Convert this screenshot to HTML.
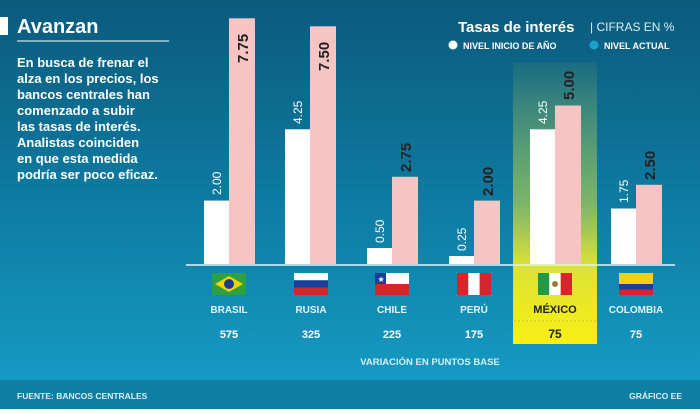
<!DOCTYPE html><html><head><meta charset="utf-8"><style>
body{margin:0;width:700px;height:409px;overflow:hidden;font-family:"Liberation Sans",sans-serif}
</style></head><body>
<svg width="700" height="409" xmlns="http://www.w3.org/2000/svg" font-family="Liberation Sans, sans-serif">
<defs>
<linearGradient id="bg" x1="0" y1="0" x2="0" y2="1"><stop offset="0" stop-color="#0b5a7c"/><stop offset="0.55" stop-color="#0f7fa6"/><stop offset="1" stop-color="#169fc8"/></linearGradient>
<linearGradient id="hl" x1="0" y1="0" x2="0" y2="1"><stop offset="0" stop-color="#f4ee2a" stop-opacity="0.05"/><stop offset="0.5" stop-color="#d6e23a" stop-opacity="0.55"/><stop offset="0.72" stop-color="#f2ec2a" stop-opacity="0.9"/><stop offset="1" stop-color="#f8ef14"/></linearGradient>
</defs>
<rect width="700" height="409" fill="url(#bg)"/>
<rect y="380" width="700" height="29" fill="#0e7ea3"/>
<rect x="513" y="62" width="84" height="282" fill="url(#hl)"/>
<line x1="514" y1="321" x2="596" y2="321" stroke="#c9c020" stroke-dasharray="2,2"/>
<!-- left text -->
<rect x="0" y="17" width="8" height="18" fill="#fff"/>
<text x="17" y="33" font-size="20" font-weight="bold" fill="#fff">Avanzan</text>
<line x1="17" y1="41" x2="169" y2="41" stroke="#fff" stroke-width="1"/>
<g font-size="13" font-weight="bold" fill="#fff">
<text x="17" y="67">En busca de frenar el</text>
<text x="17" y="83">alza en los precios, los</text>
<text x="17" y="99">bancos centrales han</text>
<text x="17" y="115">comenzado a subir</text>
<text x="17" y="131">las tasas de interés.</text>
<text x="17" y="147">Analistas coinciden</text>
<text x="17" y="163">en que esta medida</text>
<text x="17" y="179">podría ser poco eficaz.</text>
</g>
<!-- legend -->
<text x="458" y="32" font-size="15" font-weight="bold" fill="#fff">Tasas de interés</text>
<text x="590" y="31" font-size="12" fill="#d8eef6">| CIFRAS EN %</text>
<circle cx="453" cy="45" r="4.5" fill="#fff"/>
<text x="463" y="49" font-size="9" fill="#fff" font-weight="bold">NIVEL INICIO DE AÑO</text>
<circle cx="594" cy="45" r="4.5" fill="#1aa0cc"/>
<text x="604" y="49" font-size="9" fill="#fff" font-weight="bold">NIVEL ACTUAL</text>
<!-- bars -->
<g fill="#fff">
<rect x="204" y="200.6" width="25" height="63.4"/>
<rect x="285" y="129.3" width="25" height="134.7"/>
<rect x="367" y="248" width="25" height="16"/>
<rect x="449" y="256" width="25" height="8"/>
<rect x="530" y="129.3" width="25" height="134.7"/>
<rect x="611" y="208.5" width="25" height="55.5"/>
</g>
<g fill="#f6c4c2">
<rect x="229" y="18.3" width="26" height="245.7"/>
<rect x="310" y="26.3" width="26" height="237.7"/>
<rect x="392" y="176.8" width="26" height="87.2"/>
<rect x="474" y="200.6" width="26" height="63.4"/>
<rect x="555" y="105.5" width="26" height="158.5"/>
<rect x="636" y="184.8" width="26" height="79.2"/>
</g>
<g font-size="12" fill="#fff">
<text transform="translate(221,195) rotate(-90)">2.00</text>
<text transform="translate(302,124) rotate(-90)">4.25</text>
<text transform="translate(384,243) rotate(-90)">0.50</text>
<text transform="translate(466,251) rotate(-90)">0.25</text>
<text transform="translate(547,124) rotate(-90)">4.25</text>
<text transform="translate(628,203) rotate(-90)">1.75</text>
</g>
<g font-size="15" font-weight="bold" fill="#222">
<text transform="translate(248,63) rotate(-90)">7.75</text>
<text transform="translate(329,71) rotate(-90)">7.50</text>
<text transform="translate(411,172) rotate(-90)">2.75</text>
<text transform="translate(493,196) rotate(-90)">2.00</text>
<text transform="translate(574,100) rotate(-90)">5.00</text>
<text transform="translate(655,180) rotate(-90)">2.50</text>
</g>
<line x1="186" y1="265" x2="675" y2="265" stroke="#dff2f8" stroke-width="1.5"/>
<!-- flags -->
<g>
<rect x="212" y="273" width="34" height="22" fill="#2ea043"/><polygon points="229,276 243,284 229,292 215,284" fill="#f2d400"/><circle cx="229" cy="284" r="5" fill="#1c3d8c"/>
<rect x="294" y="273" width="34" height="7.3" fill="#fff"/><rect x="294" y="280.3" width="34" height="7.4" fill="#1c3d9c"/><rect x="294" y="287.7" width="34" height="7.3" fill="#d6262b"/>
<rect x="375" y="273" width="34" height="11" fill="#fff"/><rect x="375" y="284" width="34" height="11" fill="#d6262b"/><rect x="375" y="273" width="11" height="11" fill="#1c3d9c"/><text x="377.5" y="282" font-size="8" fill="#fff">★</text>
<rect x="457" y="273" width="11.3" height="22" fill="#d6262b"/><rect x="468.3" y="273" width="11.4" height="22" fill="#fff"/><rect x="479.7" y="273" width="11.3" height="22" fill="#d6262b"/>
<rect x="538" y="273" width="11.3" height="22" fill="#1f9a4a"/><rect x="549.3" y="273" width="11.4" height="22" fill="#fff"/><rect x="560.7" y="273" width="11.3" height="22" fill="#d6262b"/><circle cx="555" cy="284" r="3" fill="#9a7a3a"/>
<rect x="619" y="273" width="34" height="11" fill="#f2cf1a"/><rect x="619" y="284" width="34" height="5.5" fill="#1c3d9c"/><rect x="619" y="289.5" width="34" height="5.5" fill="#d6262b"/>
</g>
<g font-size="10" font-weight="bold" fill="#e6f4fa" text-anchor="middle">
<text x="229" y="313">BRASIL</text><text x="311" y="313">RUSIA</text><text x="392" y="313">CHILE</text><text x="474" y="313">PERÚ</text><text x="555" y="313" fill="#222" font-size="11">MÉXICO</text><text x="636" y="313">COLOMBIA</text>
</g>
<g font-size="11" font-weight="bold" fill="#fff" text-anchor="middle">
<text x="229" y="338">575</text><text x="311" y="338">325</text><text x="392" y="338">225</text><text x="474" y="338">175</text><text x="555" y="338" fill="#222" font-size="12">75</text><text x="636" y="338">75</text>
</g>
<text x="430" y="365" font-size="9.5" font-weight="bold" fill="#d8eef6" text-anchor="middle">VARIACIÓN EN PUNTOS BASE</text>
<text x="17" y="399" font-size="8.5" font-weight="bold" fill="#d8eef6">FUENTE: BANCOS CENTRALES</text>
<text x="682" y="399" font-size="8.5" font-weight="bold" fill="#d8eef6" text-anchor="end">GRÁFICO EE</text>
</svg>
</body></html>
